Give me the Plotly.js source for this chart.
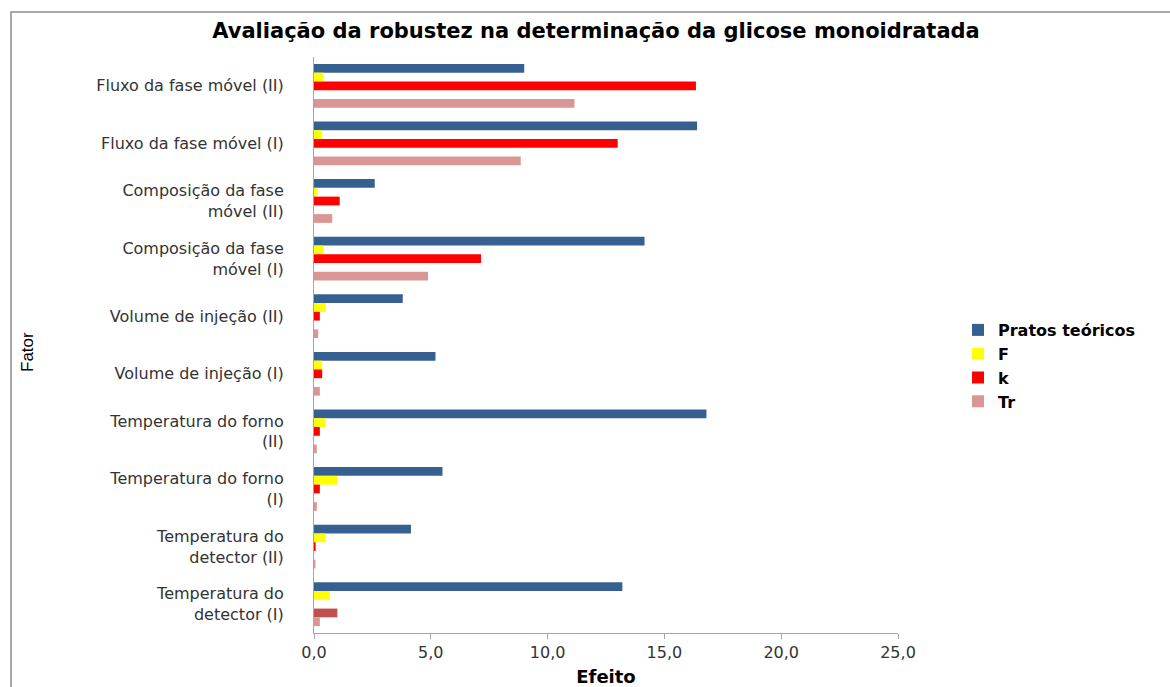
<!DOCTYPE html>
<html>
<head>
<meta charset="utf-8">
<script src="https://cdn.plot.ly/plotly-3.0.1.min.js"></script>
<style>html,body{margin:0;padding:0;background:#fff;}#chart{width:1170px;height:687px;}</style>
</head>
<body>
<div id="chart"></div>
<script>
// Categories, top to bottom as shown
const categorias = [
  "Fluxo da fase móvel (II)",
  "Fluxo da fase móvel (I)",
  "Composição da fase<br>móvel (II)",
  "Composição da fase<br>móvel (I)",
  "Volume de injeção (II)",
  "Volume de injeção (I)",
  "Temperatura do forno<br>(II)",
  "Temperatura do forno<br>(I)",
  "Temperatura do<br>detector (II)",
  "Temperatura do<br>detector (I)"
];
const pratosTeoricos = [9.0, 16.4, 2.6, 14.15, 3.8, 5.2, 16.8, 5.5, 4.15, 13.2];
const valoresF       = [0.4, 0.35, 0.12, 0.4, 0.5, 0.35, 0.5, 1.0, 0.5, 0.68];
const valoresK       = [16.35, 13.0, 1.1, 7.15, 0.25, 0.35, 0.25, 0.25, 0.07, null];
const serieExtra     = [null, null, null, null, null, null, null, null, null, 1.0];
const valoresTr      = [11.15, 8.85, 0.78, 4.88, 0.18, 0.25, 0.12, 0.12, 0.06, 0.25];
const xTicks = [0, 5, 10, 15, 20, 25];

const mk = (name, x, color, show) => ({
  type: 'bar', orientation: 'h', name: name, x: x, y: categorias,
  marker: {color: color}, showlegend: show, hoverinfo: 'x+name'
});

const data = [
  mk('Pratos teóricos', pratosTeoricos, '#376092', true),
  mk('F', valoresF, '#FFFF00', true),
  mk('k', valoresK, '#FF0000', true),
  mk('k (detector I)', serieExtra, '#C0504D', false),
  mk('Tr', valoresTr, '#D99694', true)
];

const L = 314, R = 898, T = 57, B = 633;
const W = R - L, H = B - T;
const px = v => (v - L) / W;
const py = v => (B - v) / H;

const layout = {
  width: 1170, height: 687,
  margin: {l: L, r: 1170 - R, t: T, b: 687 - B, pad: 0},
  paper_bgcolor: '#fff', plot_bgcolor: '#fff',
  barmode: 'group', bargap: 0.24, bargroupgap: 0,
  separators: ',.',
  title: {
    text: '<b>Avaliação da robustez na determinação da glicose monoidratada</b>',
    font: {family: 'DejaVu Sans', size: 21, color: '#000'},
    x: 596 / 1170, xanchor: 'center', y: 1 - 31 / 687, yanchor: 'middle'
  },
  xaxis: {
    range: [0, 25], tickvals: xTicks, tickformat: '.1f',
    showgrid: false, zeroline: false,
    showline: true, linecolor: '#A6A6A6', linewidth: 1,
    ticks: 'outside', ticklen: 5, tickcolor: '#A6A6A6',
    tickfont: {family: 'DejaVu Sans', size: 16, color: '#333'},
    title: {text: '<b>Efeito</b>', font: {family: 'DejaVu Sans', size: 18, color: '#000'}, standoff: 10}
  },
  yaxis: {
    type: 'category', autorange: 'reversed',
    showgrid: false, zeroline: false,
    showline: true, linecolor: '#A6A6A6', linewidth: 1,
    ticks: '', ticklabelstandoff: 26,
    tickfont: {family: 'DejaVu Sans', size: 16, color: '#333'}
  },
  annotations: [{
    text: 'Fator', xref: 'paper', yref: 'paper', x: px(27), y: py(352),
    xanchor: 'center', yanchor: 'middle', textangle: -90, showarrow: false,
    font: {family: 'Liberation Sans Narrow, Liberation Sans', size: 17, color: '#000'}
  }],
  legend: {
    x: px(958), xanchor: 'left', y: py(366), yanchor: 'middle',
    font: {family: 'DejaVu Sans', size: 16, color: '#000', weight: 'bold'},
    itemwidth: 30, tracegroupgap: 0, bgcolor: 'rgba(0,0,0,0)'
  },
  shapes: [{
    type: 'rect', xref: 'paper', yref: 'paper',
    x0: px(11), x1: px(1175), y0: py(700), y1: py(12),
    line: {color: '#8C8C8C', width: 1.5}, fillcolor: 'rgba(0,0,0,0)', layer: 'below'
  }]
};

Plotly.newPlot('chart', data, layout, {displayModeBar: false, staticPlot: true});
</script>
</body>
</html>
